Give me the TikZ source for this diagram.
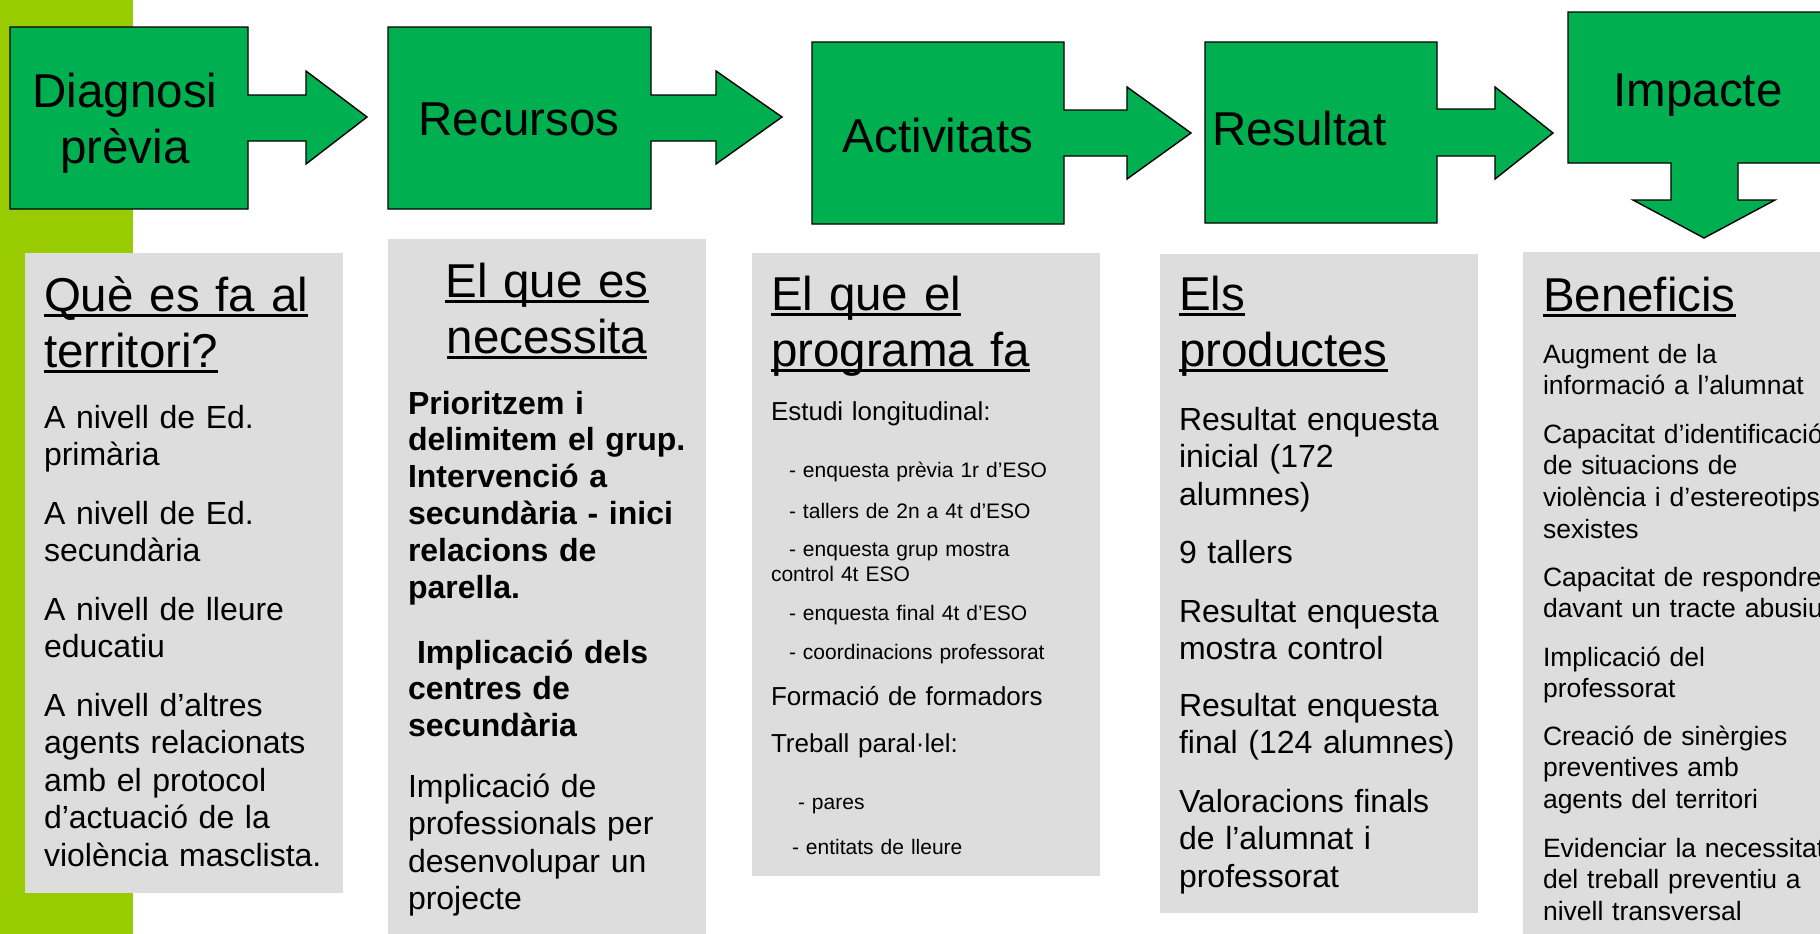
\documentclass[tikz,border=0pt]{standalone}
\usepackage{fontspec}
\setmainfont{Liberation Sans}
\definecolor{barlime}{HTML}{99CC00}
\definecolor{boxgreen}{HTML}{00B050}
\definecolor{panelgray}{HTML}{DDDDDD}
\newsavebox\myulbox
\newcommand\myul[1]{\leavevmode\sbox\myulbox{#1}\rlap{\rule[-0.12em]{\wd\myulbox}{0.06em}}\usebox\myulbox}
\newcommand\mytitle{\fontsize{23.75}{28}\selectfont}
\newcommand\mybody{\fontsize{16}{18.75}\selectfont}
\newcommand\mybold{\fontsize{16}{18.4}\selectfont\bfseries}
\newcommand\mymid{\fontsize{13}{15}\selectfont}
\newcommand\mysmall{\fontsize{10.5}{12.5}\selectfont}
\newcommand\myben{\fontsize{13.25}{15.85}\selectfont}
\tikzset{
  blockshape/.style={fill=boxgreen, draw=black, line width=0.7pt, line join=miter},
  panel/.style={fill=panelgray, draw=none},
  ttl/.style={inner sep=0pt, outer sep=0pt, font=\mytitle, align=center, text width=200pt, anchor=base},
  head/.style={inner sep=0pt, outer sep=0pt, font=\mytitle, align=left, text width=200pt, anchor=base west},
  bodytxt/.style={inner sep=0pt, outer sep=0pt, font=\mybody, align=left, text width=190pt, anchor=base west},
  boldtxt/.style={bodytxt, font=\mybold},
  midtxt/.style={bodytxt, font=\mymid},
  smalltxt/.style={bodytxt, font=\mysmall},
  bentxt/.style={bodytxt, font=\myben}
}
\begin{document}
\begin{tikzpicture}[x=0.5pt,y=-0.5pt]
\useasboundingbox (0,0) rectangle (1820,933);
\clip (0,0) rectangle (1820,933);
% lime side bar
\fill[barlime] (0,-5) rectangle (133,940);
% grey panels
\fill[panel] (25,253) rectangle (343,893);
\fill[panel] (388,239) rectangle (706,940);
\fill[panel] (752,253) rectangle (1100,876);
\fill[panel] (1160,254) rectangle (1478,913);
\fill[panel] (1523,252) rectangle (1830,940);
% green block arrows
\draw[blockshape] (10,27) -- (248,27) -- (248,95) -- (306,95) -- (306,71) -- (367,117)
  -- (306,164) -- (306,141) -- (248,141) -- (248,209) -- (10,209) -- cycle;
\draw[blockshape] (388,27) -- (651,27) -- (651,95) -- (716,95) -- (716,71) -- (782,117)
  -- (716,164) -- (716,141) -- (651,141) -- (651,209) -- (388,209) -- cycle;
\draw[blockshape] (812,42) -- (1064,42) -- (1064,110) -- (1127,110) -- (1127,87) -- (1191,133)
  -- (1127,179) -- (1127,156) -- (1064,156) -- (1064,224) -- (812,224) -- cycle;
\draw[blockshape] (1205,42) -- (1437,42) -- (1437,109) -- (1495,109) -- (1495,87) -- (1553,133)
  -- (1495,179) -- (1495,156) -- (1437,156) -- (1437,223) -- (1205,223) -- cycle;
\draw[blockshape] (1568,12) -- (1830,12) -- (1830,163) -- (1738,163) -- (1738,200) -- (1775,200)
  -- (1704,238) -- (1633,200) -- (1671,200) -- (1671,163) -- (1568,163) -- cycle;
% titles
\node[ttl] (tDiag) at (125,107) {Diagnosi\\prèvia};
\node[ttl] (tRec) at (519,135) {Recursos};
\node[ttl] (tAct) at (938,152) {Activitats};
\node[head] (tRes) at (1212,145) {Resultat};
\node[ttl] (tImp) at (1698,106) {Impacte};
% headings
\node[head] (h1) at (44,311) {\myul{Què es fa al}\\\myul{territori?}};
\node[ttl] (h2) at (547,297) {\myul{El que es}\\\myul{necessita}};
\node[head] (h3) at (771,310) {\myul{El que el}\\\myul{programa fa}};
\node[head] (h4) at (1179,310) {\myul{Els}\\\myul{productes}};
\node[head] (h5) at (1543,311) {\myul{Beneficis}};
% column 1
\node[bodytxt] (c1a) at (44,428) {A nivell de Ed.\\primària};
\node[bodytxt] (c1b) at (44,524) {A nivell de Ed.\\secundària};
\node[bodytxt] (c1c) at (44,620) {A nivell de lleure\\educatiu};
\node[bodytxt] (c1d) at (44,716) {A nivell d’altres\\agents relacionats\\amb el protocol\\d’actuació de la\\violència masclista.};
% column 2
\node[boldtxt] (c2a) at (408,414) {Prioritzem i\\delimitem el grup.\\Intervenció a\\secundària - inici\\relacions de\\parella.};
\node[boldtxt] (c2b) at (408,663) {\hspace*{4.5pt}Implicació dels\\centres de\\secundària};
\node[bodytxt] (c2c) at (408,797) {Implicació de\\professionals per\\desenvolupar un\\projecte};
% column 3
\node[midtxt] (c3a) at (771,420) {Estudi longitudinal:};
\node[smalltxt] (c3b) at (771,477) {\hspace*{9pt}- enquesta prèvia 1r d’ESO};
\node[smalltxt] (c3c) at (771,518) {\hspace*{9pt}- tallers de 2n a 4t d’ESO};
\node[smalltxt] (c3d) at (771,556) {\hspace*{9pt}- enquesta grup mostra\\control 4t ESO};
\node[smalltxt] (c3e) at (771,620) {\hspace*{9pt}- enquesta final 4t d’ESO};
\node[smalltxt] (c3f) at (771,659) {\hspace*{9pt}- coordinacions professorat};
\node[midtxt] (c3g) at (771,705) {Formació de formadors};
\node[midtxt] (c3h) at (771,752) {Treball paral·lel:};
\node[smalltxt] (c3i) at (771,809) {\hspace*{13.5pt}- pares};
\node[smalltxt] (c3j) at (771,854) {\hspace*{10.5pt}- entitats de lleure};
% column 4
\node[bodytxt] (c4a) at (1179,430) {Resultat enquesta\\inicial (172\\alumnes)};
\node[bodytxt] (c4b) at (1179,563) {9 tallers};
\node[bodytxt] (c4c) at (1179,622) {Resultat enquesta\\mostra control};
\node[bodytxt] (c4d) at (1179,716) {Resultat enquesta\\final (124 alumnes)};
\node[bodytxt] (c4e) at (1179,812) {Valoracions finals\\de l’alumnat i\\professorat};
% column 5
\node[bentxt] (c5a) at (1543,363) {Augment de la\\informació a l’alumnat};
\node[bentxt] (c5b) at (1543,443) {Capacitat d’identificació\\de situacions de\\violència i d’estereotips\\sexistes};
\node[bentxt] (c5c) at (1543,586) {Capacitat de respondre\\davant un tracte abusiu};
\node[bentxt] (c5d) at (1543,666) {Implicació del\\professorat};
\node[bentxt] (c5e) at (1543,745) {Creació de sinèrgies\\preventives amb\\agents del territori};
\node[bentxt] (c5f) at (1543,857) {Evidenciar la necessitat\\del treball preventiu a\\nivell transversal};
\end{tikzpicture}
\end{document}
